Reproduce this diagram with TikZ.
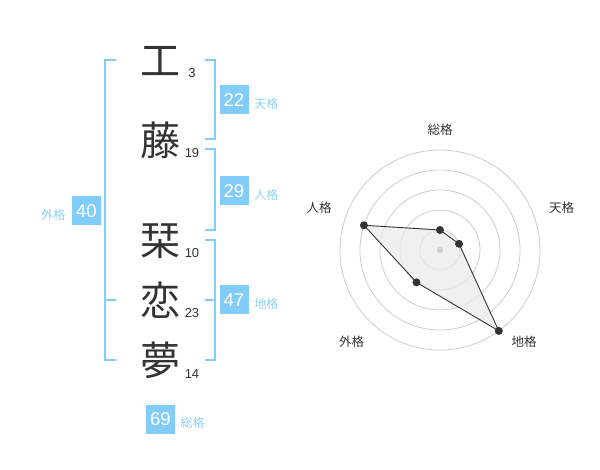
\documentclass[tikz,border=0pt]{standalone}
\usepackage{fontspec}
\setmainfont{Liberation Sans}
\newfontfamily\jp{Noto Sans CJK JP}
\usetikzlibrary{positioning}
\definecolor{kakublue}{RGB}{130,204,250}
\definecolor{kakutext}{RGB}{140,208,245}
\definecolor{inkgray}{RGB}{51,51,51}
\definecolor{ringgray}{RGB}{204,204,204}
\begin{document}
\begin{tikzpicture}[x=1pt,y=-1pt]
  \tikzstyle{every node}=[inner sep=0pt]
  \tikzstyle{kanji}=[font=\jp\fontsize{40}{40}\selectfont,text=inkgray,text height=35.2pt,text depth=4.8pt]
  \tikzstyle{strokes}=[anchor=base,font=\fontsize{13}{13}\selectfont,text=inkgray]
  \tikzstyle{kaku}=[fill=kakublue,text=white,minimum size=29pt,font=\fontsize{18.5}{18.5}\selectfont,text height=13.3pt,text depth=0pt]
  \tikzstyle{kakulabel}=[font=\jp\fontsize{12}{12}\selectfont,text=kakutext,yshift=-4pt]
  \tikzstyle{bracket}=[draw=kakublue,line width=2pt]
  \tikzstyle{axislabel}=[font=\jp\fontsize{12.5}{12.5}\selectfont,text=inkgray]
  \tikzstyle{dot}=[circle,fill=inkgray,minimum size=8pt]
  \useasboundingbox (0,0) rectangle (600,470);
  % name
  \node[kanji] (c1) at (160,60) {工};
  \node[kanji] (c2) at (160,140) {藤};
  \node[kanji] (c3) at (160,240) {栞};
  \node[kanji] (c4) at (160,300) {恋};
  \node[kanji] (c5) at (160,360) {夢};
  \node[strokes] (s1) at (192,77.5) {3};
  \node[strokes] (s2) at (192,158) {19};
  \node[strokes] (s3) at (192,258) {10};
  \node[strokes] (s4) at (192,318) {23};
  \node[strokes] (s5) at (192,378) {14};
  % brackets
  \draw[bracket] (116,60) -- (105,60) -- (105,360) -- (116,360);
  \draw[bracket] (105,300) -- (116,300);
  \draw[bracket] (205,60) -- (215,60) -- (215,139) -- (205,139);
  \draw[bracket] (205,149) -- (215,149) -- (215,230) -- (205,230);
  \draw[bracket] (205,240) -- (215,240) -- (215,360) -- (205,360);
  \draw[bracket] (205,300) -- (215,300);
  % scores
  \node[kaku] (ten) at (234,100) {22};
  \node[kaku] (jin) at (234,190.5) {29};
  \node[kaku] (chi) at (234,300) {47};
  \node[kaku] (gai) at (86.3,210.5) {40};
  \node[kaku] (sou) at (160.3,419.3) {69};
  \node[kakulabel,right=5.5pt of ten] (tenlabel) {天格};
  \node[kakulabel,right=5.5pt of jin] (jinlabel) {人格};
  \node[kakulabel,right=5.5pt of chi] (chilabel) {地格};
  \node[kakulabel,left=6pt of gai] (gailabel) {外格};
  \node[kakulabel,right=5.5pt of sou] (soulabel) {総格};
  % radar
  \coordinate (o) at (440,250);
  \foreach \r in {20,40,60,80,100}
    \draw[ringgray,line width=0.8pt] (o) circle (\r pt);
  \coordinate (p1) at ([shift={(90:20pt)}]o);
  \coordinate (p2) at ([shift={(18:20pt)}]o);
  \coordinate (p3) at ([shift={(-54:100pt)}]o);
  \coordinate (p4) at ([shift={(-126:40pt)}]o);
  \coordinate (p5) at ([shift={(162:80pt)}]o);
  \draw[inkgray,line width=0.9pt,fill=black!8,fill opacity=0.75] (p1) -- (p2) -- (p3) -- (p4) -- (p5) -- cycle;
  \node[circle,fill=ringgray,minimum size=6pt] (center) at (o) {};
  \foreach \i in {1,...,5}
    \node[dot] (d\i) at (p\i) {};
  \node[axislabel] (asou) at (440,130) {総格};
  \node[axislabel] (aten) at (561.7,208) {天格};
  \node[axislabel] (ajin) at (319,208) {人格};
  \node[axislabel] (agai) at (351.7,341.7) {外格};
  \node[axislabel] (achi) at (524,341.7) {地格};
\end{tikzpicture}
\end{document}
